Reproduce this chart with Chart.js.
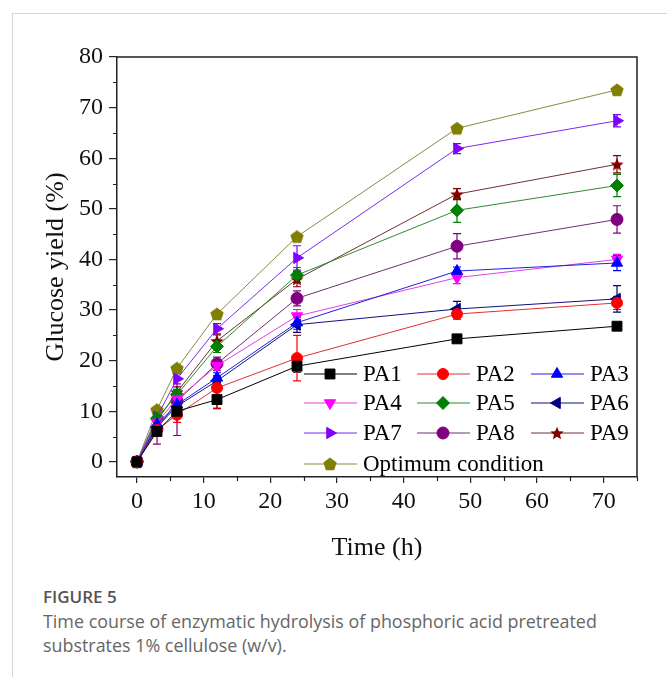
<!DOCTYPE html>
<html>
<head>
<meta charset="utf-8">
<title>Figure 5</title>
<script src="https://cdn.jsdelivr.net/npm/chart.js@4.4.1/dist/chart.umd.min.js"></script>
<style>
  html, body { margin: 0; padding: 0; background: #fff; }
  body { width: 667px; height: 677px; position: relative; overflow: hidden; }
  .card { position: absolute; left: 12px; top: 13px; right: 0; bottom: 0;
          border-left: 1px solid #d4d4d4; border-top: 1px solid #d4d4d4; }
  #wrap { position: absolute; left: 0; top: 0; width: 667px; height: 575px; }
  .cap { position: absolute; left: 43px; top: 585px; font-family: "Open Sans", "Noto Sans", sans-serif; color: #666; }
  .cap h4 { margin: 0; font-size: 17px; font-weight: 600; color: #555; line-height: 24px; }
  .cap p { margin: 0; font-size: 17.9px; line-height: 24px; }
</style>
</head>
<body>
<div class="card"></div>
<div id="wrap"><canvas id="chart"></canvas></div>
<div class="cap">
  <h4>FIGURE 5</h4>
  <p>Time course of enzymatic hydrolysis of phosphoric acid pretreated<br>substrates 1% cellulose (w/v).</p>
</div>
<script>
// Data
const times = [0, 3, 6, 12, 24, 48, 72];

const pa1 = [0, 6.0, 10.0, 12.3, 18.9, 24.3, 26.8];
const pa2 = [0, 6.3, 9.3, 14.6, 20.5, 29.2, 31.4];
const pa3 = [0, 7.4, 11.3, 16.6, 27.5, 37.7, 39.3];
const pa4 = [0, 7.8, 12.4, 19.0, 28.8, 36.4, 40.0];
const pa5 = [0, 8.6, 13.3, 22.8, 36.9, 49.7, 54.6];
const pa6 = [0, 6.9, 11.0, 16.0, 27.1, 30.2, 32.2];
const pa7 = [0, 8.9, 16.4, 26.3, 40.3, 61.9, 67.4];
const pa8 = [0, 6.5, 12.0, 19.4, 32.3, 42.6, 47.9];
const pa9 = [0, 8.1, 13.8, 23.9, 36.1, 52.9, 58.8];
const optimum = [0, 10.3, 18.5, 29.2, 44.5, 65.9, 73.5];

const pa1Err = [0, 0.5, 0.6, 1.8, 1.2, 0.6, 0.5];
const pa2Err = [0, 0.8, 1.5, 4.0, 4.5, 1.0, 1.3];
const pa3Err = [0, 0.6, 1.0, 1.0, 1.3, 0.8, 1.5];
const pa4Err = [0, 0.6, 1.0, 1.0, 1.3, 1.2, 1.0];
const pa5Err = [0, 0.7, 1.0, 1.2, 1.5, 2.4, 2.2];
const pa6Err = [0, 0.6, 1.0, 1.0, 1.5, 1.5, 2.6];
const pa7Err = [0, 0.6, 1.0, 1.0, 2.4, 1.0, 1.2];
const pa8Err = [0, 3.0, 6.8, 1.3, 1.5, 2.5, 2.7];
const pa9Err = [0, 0.7, 1.0, 1.2, 1.5, 1.1, 1.7];
const optimumErr = [0, 0.4, 0.5, 0.6, 0.6, 0.6, 0.6];

const names = ["PA1", "PA2", "PA3", "PA4", "PA5", "PA6", "PA7", "PA8", "PA9", "Optimum condition"];

const xTicks = [0, 10, 20, 30, 40, 50, 60, 70];
const yTicks = [0, 10, 20, 30, 40, 50, 60, 70, 80];
const xMinor = [5, 15, 25, 35, 45, 55, 65, 75];
const yMinor = [5, 15, 25, 35, 45, 55, 65, 75];

// Filled star / pentagon markers
function makeShape(kind, color, r) {
    const c = document.createElement("canvas");
    const s = Math.ceil(r * 2 + 2);
    c.width = s;
    c.height = s;
    const g = c.getContext("2d");
    g.fillStyle = color;
    g.beginPath();
    const n = kind === "star" ? 10 : 5;
    for (let i = 0; i < n; i++) {
        const a = -Math.PI / 2 + (i * 2 * Math.PI) / n;
        const rr = kind === "star" && i % 2 ? r * 0.45 : r;
        const px = s / 2 + rr * Math.cos(a);
        const py = s / 2 + rr * Math.sin(a) + (kind === "star" ? r * 0.1 : r * 0.08);
        if (i) g.lineTo(px, py);
        else g.moveTo(px, py);
    }
    g.closePath();
    g.fill();
    return c;
}

const serif = '"Liberation Serif", "Times New Roman", serif';

const styles = [
    { color: "#000000", line: "#000000", pointStyle: "rect", radius: 7, rotation: 0 },
    { color: "#ff0000", line: "#e03030", pointStyle: "circle", radius: 5.5, rotation: 0 },
    { color: "#0000ff", line: "#2020e0", pointStyle: "triangle", radius: 6.5, rotation: 0 },
    { color: "#ff00ff", line: "#e040e0", pointStyle: "triangle", radius: 6.5, rotation: 180 },
    { color: "#008000", line: "#308a30", pointStyle: "rectRot", radius: 6.5, rotation: 0 },
    { color: "#000080", line: "#101080", pointStyle: "triangle", radius: 6.5, rotation: 270 },
    { color: "#8000ff", line: "#7a2af0", pointStyle: "triangle", radius: 6.5, rotation: 90 },
    { color: "#800080", line: "#703070", pointStyle: "circle", radius: 6, rotation: 0 },
    { color: "#800000", line: "#703030", pointStyle: makeShape("star", "#800000", 7), radius: 7, rotation: 0 },
    { color: "#808000", line: "#8a8a40", pointStyle: makeShape("pent", "#808000", 7), radius: 7, rotation: 0 },
];

const values = [pa1, pa2, pa3, pa4, pa5, pa6, pa7, pa8, pa9, optimum];
const errors = [pa1Err, pa2Err, pa3Err, pa4Err, pa5Err, pa6Err, pa7Err, pa8Err, pa9Err, optimumErr];

const datasets = values.map((vals, k) => ({
    label: names[k],
    data: times.map((t, i) => ({ x: t, y: vals[i] })),
    err: errors[k],
    borderColor: styles[k].line,
    backgroundColor: styles[k].color,
    borderWidth: 1,
    pointStyle: styles[k].pointStyle,
    pointRotation: styles[k].rotation,
    pointRadius: styles[k].radius,
    pointBackgroundColor: styles[k].color,
    pointBorderColor: styles[k].color,
    pointBorderWidth: 1,
    tension: 0,
}));

// Error bars under the markers
const errorBars = {
    id: "errorBars",
    beforeDatasetsDraw(chart) {
        const { ctx } = chart;
        const x = chart.scales.x;
        const y = chart.scales.y;
        ctx.save();
        ctx.lineWidth = 1.2;
        chart.data.datasets.forEach((ds, k) => {
            ctx.strokeStyle = styles[k].color;
            ds.err.forEach((e, i) => {
                if (!e) return;
                const px = x.getPixelForValue(times[i]);
                const top = y.getPixelForValue(values[k][i] + e);
                const bot = y.getPixelForValue(values[k][i] - e);
                ctx.beginPath();
                ctx.moveTo(px, top);
                ctx.lineTo(px, bot);
                ctx.moveTo(px - 4, top);
                ctx.lineTo(px + 4, top);
                ctx.moveTo(px - 4, bot);
                ctx.lineTo(px + 4, bot);
                ctx.stroke();
            });
        });
        ctx.restore();
    },
};

// Box, minor ticks and inset legend
const frame = {
    id: "frame",
    afterDraw(chart) {
        const { ctx, chartArea: a } = chart;
        const x = chart.scales.x;
        const y = chart.scales.y;
        ctx.save();
        ctx.strokeStyle = "#222";
        ctx.lineWidth = 1.5;
        ctx.beginPath();
        ctx.moveTo(a.left, a.top);
        ctx.lineTo(a.right, a.top);
        ctx.lineTo(a.right, a.bottom);
        ctx.stroke();

        ctx.lineWidth = 1.2;
        ctx.beginPath();
        xMinor.forEach((v) => {
            const px = Math.round(x.getPixelForValue(v)) + 0.5;
            ctx.moveTo(px, a.bottom);
            ctx.lineTo(px, a.bottom + 4);
        });
        yMinor.forEach((v) => {
            const py = Math.round(y.getPixelForValue(v)) + 0.5;
            ctx.moveTo(a.left, py);
            ctx.lineTo(a.left - 4, py);
        });
        ctx.stroke();

        const colX = [304, 417, 531];
        const rowY = [374, 403, 433, 464];
        ctx.font = "23px " + serif;
        ctx.textBaseline = "middle";
        ctx.fillStyle = "#000";
        chart.data.datasets.forEach((ds, k) => {
            const lx = colX[k % 3];
            const ly = rowY[Math.floor(k / 3)];
            ctx.strokeStyle = styles[k].line;
            ctx.lineWidth = 1;
            ctx.beginPath();
            ctx.moveTo(lx, ly);
            ctx.lineTo(lx + 53, ly);
            ctx.stroke();
            ctx.fillStyle = styles[k].color;
            ctx.strokeStyle = styles[k].color;
            Chart.helpers.drawPoint(ctx, {
                pointStyle: styles[k].pointStyle,
                rotation: styles[k].rotation,
                radius: styles[k].radius,
                borderWidth: 1,
            }, lx + 26, ly);
            ctx.fillStyle = "#000";
            ctx.fillText(ds.label, lx + 59, ly + 1);
        });
        ctx.restore();
    },
};

new Chart(document.getElementById("chart"), {
    type: "line",
    data: { datasets },
    options: {
        responsive: true,
        maintainAspectRatio: false,
        animation: false,
        layout: { padding: { top: 57, right: 30, left: 0, bottom: 0 } },
        plugins: {
            legend: { display: false },
            tooltip: { enabled: false },
        },
        scales: {
            x: {
                type: "linear",
                min: -3,
                max: 75,
                afterBuildTicks: (s) => { s.ticks = xTicks.map((v) => ({ value: v })); },
                afterFit: (s) => { s.height = 98; },
                ticks: { font: { family: serif, size: 24 }, color: "#111", padding: 4, maxRotation: 0, autoSkip: false },
                grid: { drawOnChartArea: false, tickLength: 6, color: "#222", lineWidth: 1.2 },
                border: { color: "#222", width: 1.5 },
                title: { display: true, text: "Time (h)", font: { family: serif, size: 26 }, color: "#111", padding: { top: 0, bottom: 11 } },
            },
            y: {
                type: "linear",
                min: -3,
                max: 80,
                afterBuildTicks: (s) => { s.ticks = yTicks.map((v) => ({ value: v })); },
                afterFit: (s) => { s.width = 117; },
                ticks: { font: { family: serif, size: 24 }, color: "#111", padding: 6, autoSkip: false },
                grid: { drawOnChartArea: false, tickLength: 8, color: "#222", lineWidth: 1.2 },
                border: { color: "#222", width: 1.5 },
                title: { display: true, text: "Glucose yield (%)", font: { family: serif, size: 26 }, color: "#111", padding: { top: 41, bottom: 0 } },
            },
        },
    },
    plugins: [errorBars, frame],
});
</script>
</body>
</html>
